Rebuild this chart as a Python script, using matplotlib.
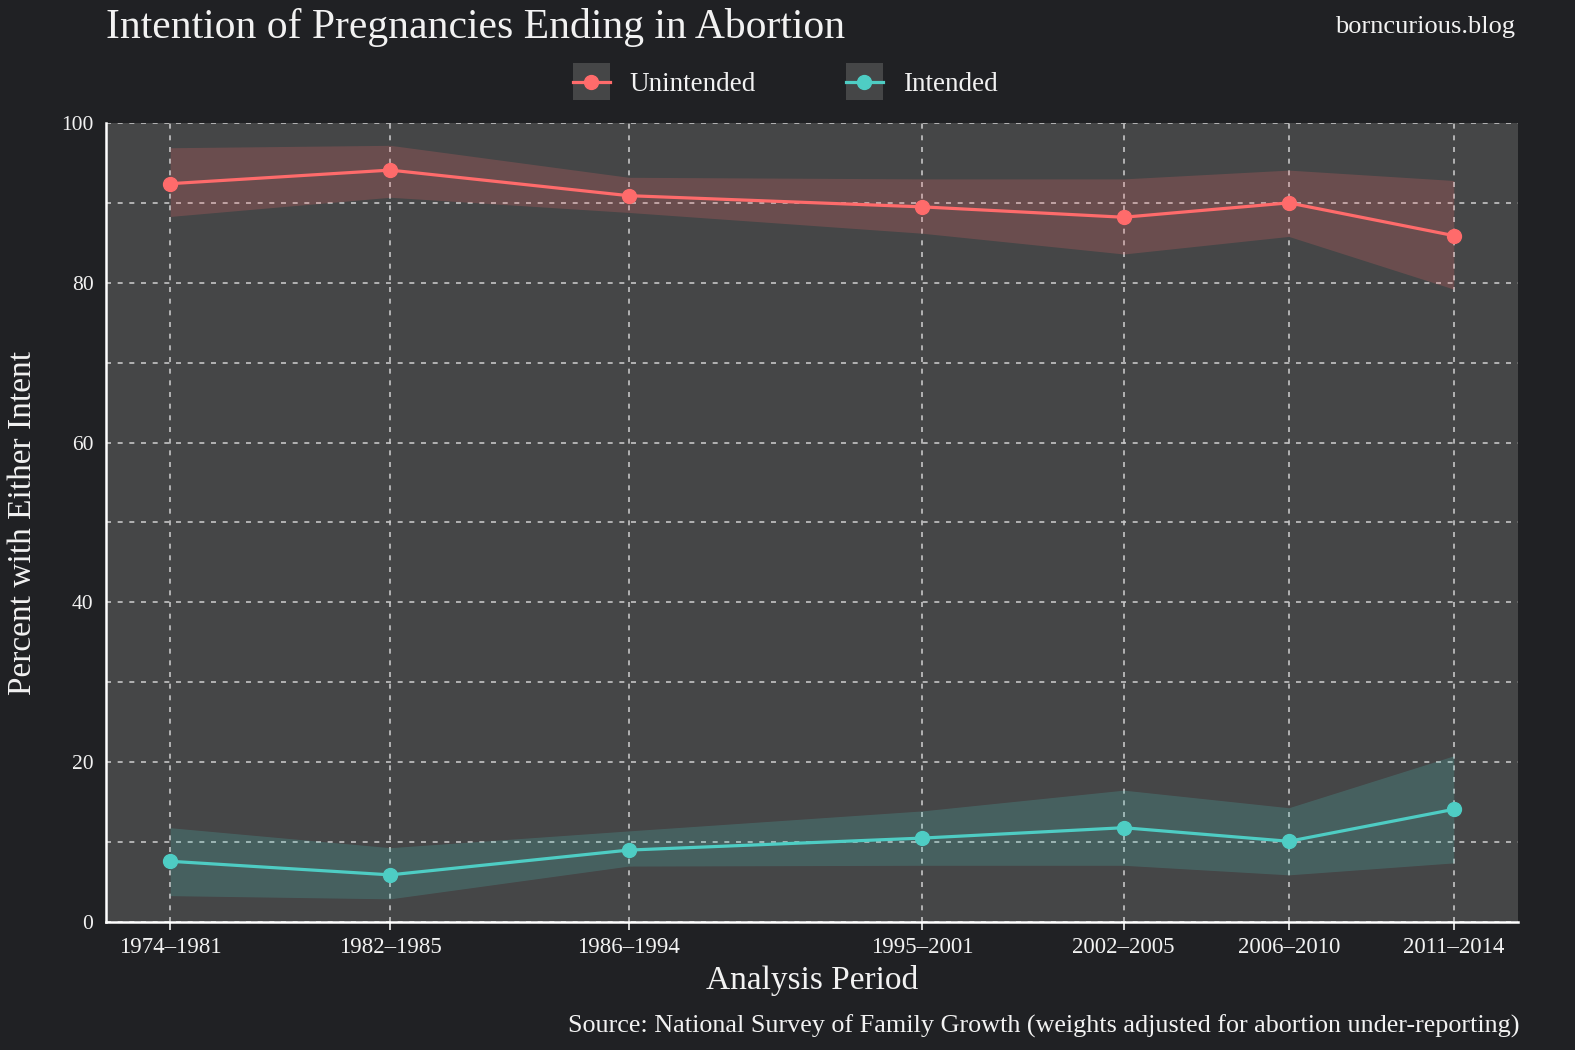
import numpy as np
import matplotlib
matplotlib.use("Agg")
import matplotlib.pyplot as plt
from matplotlib.patches import Rectangle
from matplotlib.ticker import MultipleLocator

# Analysis periods and their midpoints (x positions)
periods = ["1974–1981", "1982–1985", "1986–1994", "1995–2001", "2002–2005", "2006–2010", "2011–2014"]
midpoints = [1977.5, 1983.5, 1990.0, 1998.0, 2003.5, 2008.0, 2012.5]

unintended = [92.4, 94.1, 90.9, 89.5, 88.2, 90.0, 85.9]
unintended_lo = [88.3, 90.7, 88.8, 86.2, 83.6, 85.8, 79.2]
unintended_hi = [96.9, 97.2, 93.2, 93.0, 93.0, 94.1, 92.8]

intended = [7.6, 5.9, 9.0, 10.5, 11.8, 10.1, 14.1]
intended_lo = [3.3, 2.9, 7.0, 7.1, 7.1, 5.9, 7.4]
intended_hi = [11.8, 9.3, 11.4, 13.9, 16.5, 14.3, 20.8]

RED = "#FF6B6B"
TEAL = "#4ECDC4"
FIG_BG = "#202124"
AX_BG = "#454647"
TXT = "#F2F2F2"

plt.rcParams["font.family"] = ["Liberation Serif", "DejaVu Serif"]

fig = plt.figure(figsize=(15.75, 10.5), dpi=100, facecolor=FIG_BG)
ax = fig.add_axes([0.0673, 0.1219, 0.8965, 0.761])
ax.set_facecolor(AX_BG)

ax.fill_between(midpoints, unintended_lo, unintended_hi, color=RED, alpha=0.2, lw=0, zorder=2)
ax.fill_between(midpoints, intended_lo, intended_hi, color=TEAL, alpha=0.2, lw=0, zorder=2)
ax.plot(midpoints, unintended, color=RED, lw=2.3, marker="o", ms=10, label="Unintended", zorder=4)
ax.plot(midpoints, intended, color=TEAL, lw=2.3, marker="o", ms=10, label="Intended", zorder=4)

span = midpoints[-1] - midpoints[0]
ax.set_xlim(midpoints[0] - 0.05 * span, midpoints[-1] + 0.05 * span)
ax.set_ylim(0, 100)
ax.set_xticks(midpoints)
ax.set_xticklabels(periods)
ax.yaxis.set_major_locator(MultipleLocator(20))
ax.yaxis.set_minor_locator(MultipleLocator(10))

grid_kw = dict(color="#cccccc", lw=1.2, linestyle=(0, (3, 4)), alpha=0.95)
ax.grid(True, which="major", axis="both", **grid_kw)
ax.grid(True, which="minor", axis="y", **grid_kw)
ax.set_axisbelow(True)

for s in ["top", "right"]:
    ax.spines[s].set_visible(False)
for s in ["left", "bottom"]:
    ax.spines[s].set_color("white")
    ax.spines[s].set_linewidth(1.8)

ax.tick_params(axis="x", colors=TXT, labelsize=16.5, length=6, width=1.2, pad=5)
ax.tick_params(axis="y", colors=TXT, labelsize=15.5, length=0, pad=9)
ax.tick_params(axis="y", which="minor", length=0)

ax.set_xlabel("Analysis Period", color=TXT, fontsize=24, labelpad=5)
ax.set_ylabel("Percent with Either Intent", color=TXT, fontsize=24, labelpad=17)

fig.text(0.0673, 0.9735, "Intention of Pregnancies Ending in Abortion", color=TXT,
         fontsize=30, ha="left", va="center")
fig.text(0.962, 0.9745, "borncurious.blog", color=TXT, fontsize=19, ha="right", va="center")
fig.text(0.9645, 0.0225, "Source: National Survey of Family Growth (weights adjusted for abortion under-reporting)",
         color=TXT, fontsize=18.8, ha="right", va="center")

handles, labels = ax.get_legend_handles_labels()
leg = fig.legend(handles, labels, ncol=2, loc="center", bbox_to_anchor=(0.4985, 0.9195),
                 frameon=False, fontsize=19.5, handlelength=1.37, handletextpad=0.74,
                 columnspacing=3.3, labelcolor=TXT)
leg.set_zorder(5)

# grey boxes behind the legend keys
fig.canvas.draw()
renderer = fig.canvas.get_renderer()
inv = fig.transFigure.inverted()
for h in leg.legend_handles:
    bb = h.get_window_extent(renderer)
    cx, cy = (bb.x0 + bb.x1) / 2, (bb.y0 + bb.y1) / 2
    (x0, y0), (x1, y1) = inv.transform([(cx - 18.5, cy - 18.5), (cx + 18.5, cy + 18.5)])
    fig.patches.append(Rectangle((x0, y0), x1 - x0, y1 - y0, transform=fig.transFigure,
                                 facecolor=AX_BG, edgecolor="none", zorder=4, figure=fig))

fig.savefig("out.png", dpi=100, facecolor=FIG_BG)
